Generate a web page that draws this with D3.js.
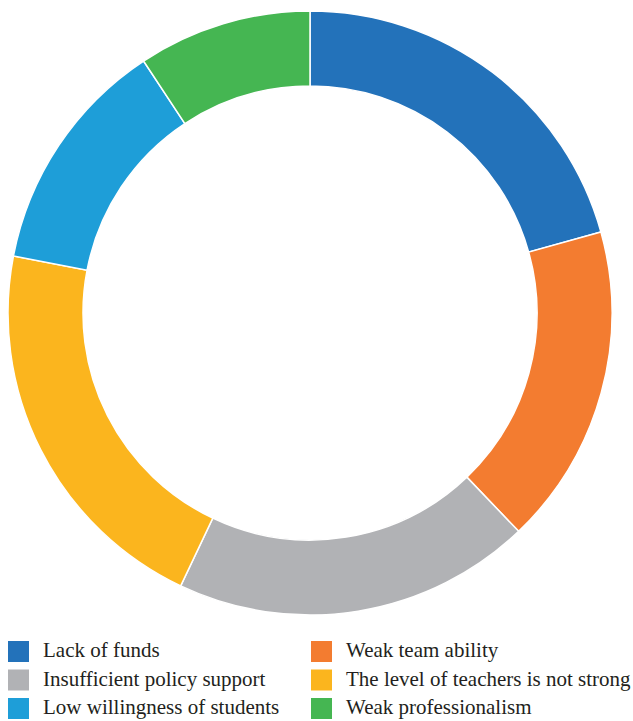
<!DOCTYPE html>
<html>
<head>
<meta charset="utf-8">
<script src="https://cdn.jsdelivr.net/npm/d3@7"></script>
<style>
  html, body { margin: 0; padding: 0; background: #fff; }
  svg { display: block; }
</style>
</head>
<body>
<svg id="chart" width="633" height="721"></svg>
<script>
// Share of each problem (percent)
const categories = [
  "Lack of funds",
  "Weak team ability",
  "Insufficient policy support",
  "The level of teachers is not strong",
  "Low willingness of students",
  "Weak professionalism"
];
const values = [20.7, 17.2, 19.2, 21.0, 12.7, 9.3];
const colors = ["#2372ba", "#f37c30", "#b1b2b5", "#fbb51e", "#1e9ed8", "#45b652"];

// Legend order: two columns, three rows
const legendOrder = [0, 1, 2, 3, 4, 5];

const svg = d3.select("#chart");
const cx = 310, cy = 313;
const outerR = 302, innerR = 227;

const data = categories.map((c, i) => ({ name: c, value: values[i], color: colors[i] }));

const pie = d3.pie().sort(null).value(d => d.value);
const arc = d3.arc().innerRadius(innerR).outerRadius(outerR);

svg.append("g")
  .attr("transform", `translate(${cx},${cy})`)
  .selectAll("path")
  .data(pie(data))
  .join("path")
  .attr("d", arc)
  .attr("fill", d => d.data.color)
  .attr("stroke", "#fff")
  .attr("stroke-width", 1.5);

// Legend
const colX = [8, 311];
const rowY = [641, 669.5, 698];
const sq = 21;

const legend = svg.append("g");
legendOrder.forEach((idx, k) => {
  const col = k % 2, row = Math.floor(k / 2);
  const g = legend.append("g").attr("transform", `translate(${colX[col]},${rowY[row]})`);
  g.append("rect")
    .attr("width", sq).attr("height", sq)
    .attr("fill", data[idx].color);
  g.append("text")
    .attr("x", 35)
    .attr("y", sq / 2 + 5.8)
    .attr("font-family", "'Liberation Serif', 'DejaVu Serif', serif")
    .attr("font-size", 21)
    .attr("fill", "#231f20")
    .text(data[idx].name);
});
</script>
</body>
</html>
